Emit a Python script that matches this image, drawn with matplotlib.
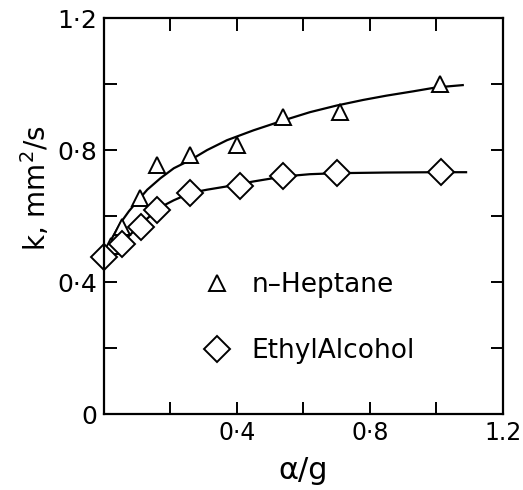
import matplotlib
matplotlib.use('Agg')
import matplotlib.pyplot as plt
from matplotlib.ticker import MultipleLocator

# measured points
heptane_x = [0.02, 0.055, 0.107, 0.158, 0.26, 0.40, 0.54, 0.71, 1.01]
heptane_y = [0.51, 0.567, 0.655, 0.755, 0.785, 0.815, 0.90, 0.915, 1.0]

ethyl_x = [0.0, 0.054, 0.11, 0.16, 0.26, 0.41, 0.54, 0.70, 1.015]
ethyl_y = [0.475, 0.515, 0.567, 0.618, 0.67, 0.69, 0.72, 0.73, 0.735]

# smooth curves as drawn
heptane_curve_x = [0.0, 0.025, 0.05, 0.075, 0.10, 0.13, 0.17, 0.21, 0.26, 0.31,
                   0.37, 0.45, 0.54, 0.62, 0.70, 0.78, 0.85, 0.93, 1.00, 1.08]
heptane_curve_y = [0.48, 0.535, 0.58, 0.615, 0.645, 0.68, 0.715, 0.745, 0.77, 0.80,
                   0.83, 0.86, 0.89, 0.915, 0.935, 0.952, 0.965, 0.978, 0.99, 0.997]

ethyl_curve_x = [0.0, 0.027, 0.054, 0.08, 0.107, 0.135, 0.16, 0.185, 0.21, 0.26,
                 0.31, 0.37, 0.45, 0.54, 0.62, 0.70, 0.85, 1.00, 1.09]
ethyl_curve_y = [0.47, 0.493, 0.518, 0.545, 0.572, 0.597, 0.618, 0.635, 0.648, 0.67,
                 0.68, 0.69, 0.705, 0.72, 0.727, 0.73, 0.732, 0.733, 0.733]

x_ticks = [0.4, 0.8, 1.2]
x_labels = ['0·4', '0·8', '1.2']
y_ticks = [0, 0.4, 0.8, 1.2]
y_labels = ['0', '0·4', '0·8', '1·2']

plt.rcParams['font.family'] = ['DejaVu Sans']

fig = plt.figure(figsize=(5.23, 4.90), dpi=100)
ax = fig.add_axes([0.199, 0.155, 0.762, 0.808])

ax.plot(heptane_curve_x, heptane_curve_y, color='black', lw=1.6)
ax.plot(ethyl_curve_x, ethyl_curve_y, color='black', lw=1.6)
ax.plot(heptane_x, heptane_y, '^', ms=11, mfc='white', mec='black', mew=1.4,
        ls='none', label='n\u2013Heptane', clip_on=False)
ax.plot(ethyl_x, ethyl_y, 'D', ms=13, mfc='white', mec='black', mew=1.4,
        ls='none', label='EthylAlcohol', clip_on=False)

ax.set_xlim(0, 1.2)
ax.set_ylim(0, 1.2)
ax.set_xticks(x_ticks)
ax.set_xticklabels(x_labels)
ax.set_yticks(y_ticks)
ax.set_yticklabels(y_labels)
ax.xaxis.set_minor_locator(MultipleLocator(0.2))
ax.yaxis.set_minor_locator(MultipleLocator(0.2))
ax.tick_params(which='both', direction='in', top=True, right=True,
               length=9, width=1.4, labelsize=18, pad=5)
ax.tick_params(axis='x', labelsize=17)

for s in ax.spines.values():
    s.set_linewidth(1.6)

ax.set_xlabel('\u03b1/g', fontsize=22, labelpad=8)
ax.set_ylabel('k, mm$^2$/s', fontsize=20)
ax.yaxis.set_label_coords(-0.13, 0.57)

ax.legend(loc='lower left', bbox_to_anchor=(0.225, 0.1), frameon=False,
          fontsize=19, labelspacing=1.5, handletextpad=0.8, handlelength=1.0,
          borderaxespad=0)

fig.savefig('out.png', dpi=100)
